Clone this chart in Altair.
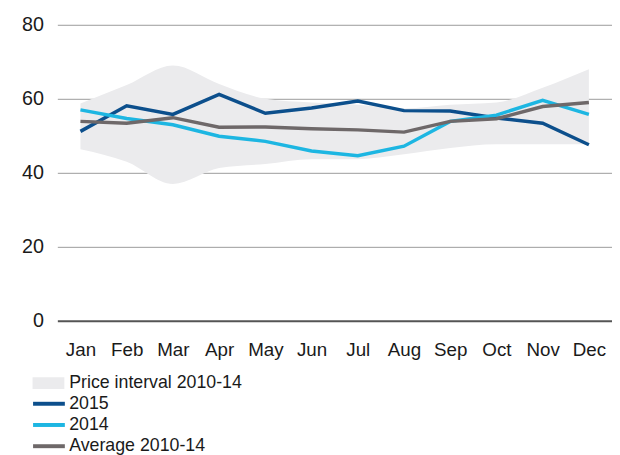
import altair as alt
import pandas as pd

months = ["Jan", "Feb", "Mar", "Apr", "May", "Jun", "Jul", "Aug", "Sep", "Oct", "Nov", "Dec"]
s2015 = [51.2, 58.1, 55.8, 61.2, 56.1, 57.5, 59.4, 56.8, 56.7, 54.8, 53.4, 47.6]
s2014 = [57.0, 54.7, 53.0, 49.9, 48.5, 45.9, 44.6, 47.2, 53.9, 55.6, 59.6, 55.8]
avg = [53.9, 53.4, 54.9, 52.3, 52.4, 51.9, 51.6, 51.0, 53.9, 54.6, 57.9, 59.0]
band_lo = [46.4, 43.0, 37.0, 41.3, 42.4, 43.7, 43.7, 45.0, 46.7, 47.7, 47.7, 47.7]
band_hi = [58.7, 63.7, 69.0, 64.0, 60.0, 59.0, 58.4, 57.4, 58.4, 59.0, 63.0, 68.0]

band_name = ["Price interval 2010-14"]
band_color = ["#ebebed"]
line_names = ["2015", "2014", "Average 2010-14"]
line_colors = ["#0c4f8c", "#1db6e2", "#6e6869"]

lines = pd.DataFrame(
    [{"month": m, "series": "2015", "value": v} for m, v in zip(months, s2015)]
    + [{"month": m, "series": "2014", "value": v} for m, v in zip(months, s2014)]
    + [{"month": m, "series": "Average 2010-14", "value": v} for m, v in zip(months, avg)]
)
band = pd.DataFrame({"month": months, "lo": band_lo, "hi": band_hi,
                     "series": band_name * len(months)})

FONT = "Liberation Sans"
TXT = "#1a1a1a"

x = alt.X("month:N", sort=months, title=None,
          scale=alt.Scale(type="point", padding=0.5),
          axis=alt.Axis(labelAngle=0, labelFontSize=19, labelColor=TXT,
                        labelFont=FONT, domain=False, ticks=False, grid=False,
                        labelPadding=20))

area = alt.Chart(band).mark_area(interpolate="monotone", opacity=1).encode(
    x=x,
    y=alt.Y("lo:Q"),
    y2="hi:Q",
    fill=alt.Fill("series:N",
                  scale=alt.Scale(domain=band_name, range=band_color),
                  legend=alt.Legend(
                      title=None, orient="none", legendX=-18, legendY=354,
                      symbolType="M-2.3,-0.85H2.3V0.85H-2.3Z", symbolSize=196,
                      symbolStrokeWidth=0,
                      labelFontSize=18, labelFont=FONT, labelColor=TXT,
                      labelLimit=400, labelOffset=12, symbolOffset=0, padding=0)),
)

line = alt.Chart(lines).mark_line(strokeWidth=3.5).encode(
    x=x,
    y=alt.Y("value:Q", title=None,
            scale=alt.Scale(domain=[0, 80]),
            axis=alt.Axis(values=[0, 20, 40, 60, 80], labelFontSize=20,
                          labelFont=FONT, labelColor=TXT, domain=False,
                          ticks=False, labelPadding=14,
                          gridColor={"condition": {"test": "datum.value === 0", "value": "#555555"}, "value": "#9a9a9a"},
                          gridWidth={"condition": {"test": "datum.value === 0", "value": 2}, "value": 1})),
    stroke=alt.Stroke("series:N",
                      scale=alt.Scale(domain=line_names, range=line_colors),
                      legend=alt.Legend(
                          title=None, orient="none", legendX=-17.5, legendY=375,
                          direction="vertical", symbolType="M-2.3,0H2.3",
                          symbolSize=196, symbolStrokeWidth=4,
                          labelFontSize=18, labelFont=FONT, labelColor=TXT,
                          labelLimit=400, labelOffset=11.5, rowPadding=3.5,
                          symbolOffset=0, padding=0)),
    order=alt.Order("series:N"),
)

chart = alt.layer(area, line).properties(
    width=562, height=300,
    autosize=alt.AutoSizeParams(type="none"),
    padding={"left": 50, "top": 14, "right": 0, "bottom": 140},
).configure_view(stroke=None)

chart.save("out.html", embed_options={"renderer": "svg", "actions": False})
